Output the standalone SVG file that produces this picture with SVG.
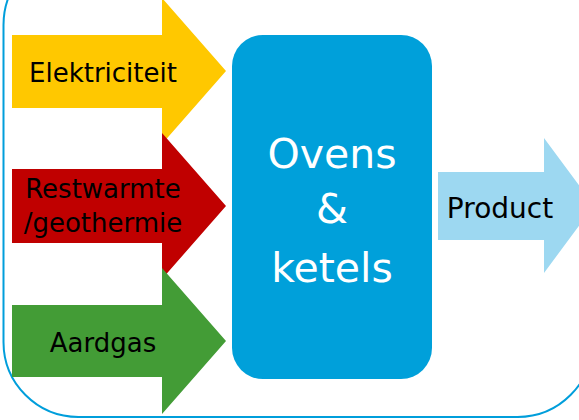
<svg xmlns="http://www.w3.org/2000/svg" width="579" height="420" viewBox="0 0 579 420">
<style>
.lbl{font-family:"DejaVu Sans","Verdana",sans-serif;font-size:26px;fill:#000;text-anchor:middle}
.big{font-family:"DejaVu Sans","Verdana",sans-serif;font-size:41px;fill:#fff;text-anchor:middle}
</style>
<rect width="579" height="420" fill="#fff"/>
<rect id="frame" x="3.5" y="-50" width="589" height="467" rx="75" ry="75" fill="none" stroke="#009edb" stroke-width="2"/>
<g id="connectors"></g>
<g id="elektriciteit">
<polygon points="12,35 162,35 162,-2 226,71 162,144 162,108 12,108" fill="#ffc800"/>
<text class="lbl" x="103" y="82">Elektriciteit</text>
</g>
<g id="restwarmte">
<polygon points="12,169 162,169 162,133 226,206 162,279 162,243 12,243" fill="#c00000"/>
<text class="lbl" x="103" y="198">Restwarmte</text>
<text class="lbl" x="103" y="232">/geothermie</text>
</g>
<g id="aardgas">
<polygon points="12,305 162,305 162,268 226,341 162,414 162,377 12,377" fill="#439c36"/>
<text class="lbl" x="103" y="352">Aardgas</text>
</g>
<g id="ovens">
<rect x="232" y="35" width="200" height="344" rx="31" ry="31" fill="#00a0da"/>
<text class="big" x="332" y="168">Ovens</text>
<text class="big" x="332" y="223">&amp;</text>
<text class="big" x="332" y="282">ketels</text>
</g>
<g id="product">
<polygon points="438,172 544,172 544,138 594,205.5 544,273 544,240 438,240" fill="#9dd8f1"/>
<text class="lbl" x="500" y="218" style="font-size:28px">Product</text>
</g>
</svg>
